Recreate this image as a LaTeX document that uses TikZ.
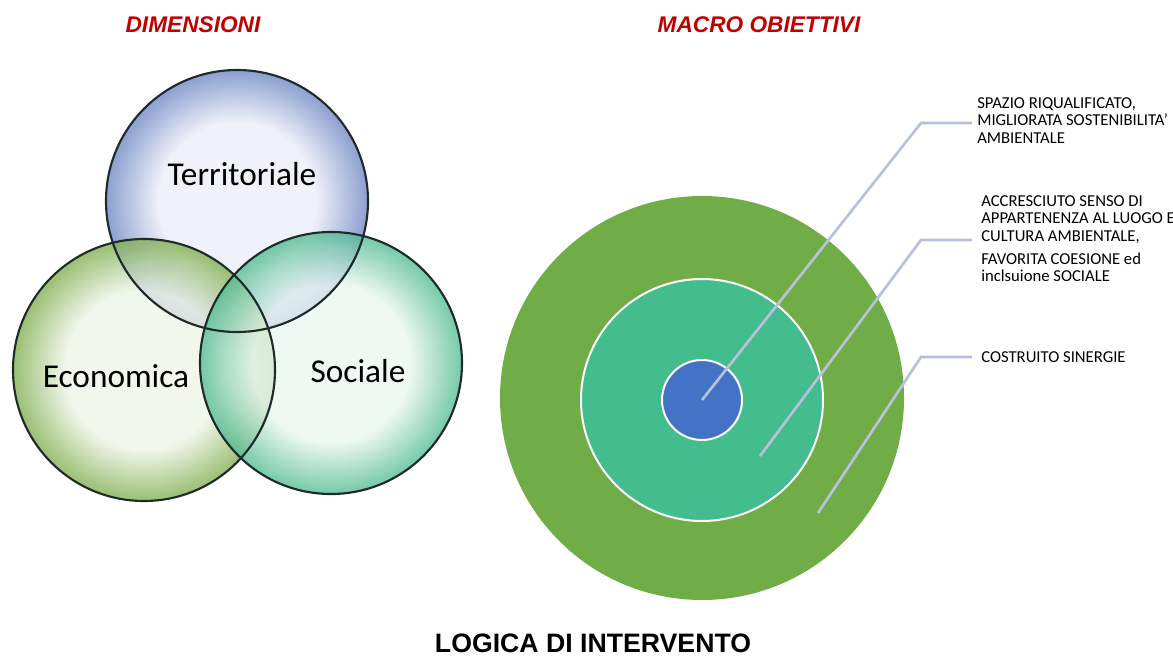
\documentclass[tikz,border=0pt]{standalone}
\usepackage{fontspec}
\setmainfont{Carlito}
\newfontfamily\headfont{Liberation Sans}
\usetikzlibrary{positioning}
\definecolor{titlered}{HTML}{C00000}
\definecolor{venndark}{HTML}{1F2B2B}
\definecolor{terrin}{HTML}{EBEEF8}
\definecolor{terrout}{HTML}{6B84C2}
\definecolor{econin}{HTML}{EEF5E7}
\definecolor{econout}{HTML}{7DAD4C}
\definecolor{socin}{HTML}{EAF7F1}
\definecolor{socout}{HTML}{50BA91}
\definecolor{ringgreen}{HTML}{70AD47}
\definecolor{ringteal}{HTML}{43BD8D}
\definecolor{ringblue}{HTML}{4472C4}
\definecolor{leadergray}{HTML}{B7C1DC}
\pgfdeclareradialshading{terrshade}{\pgfpoint{0bp}{0bp}}{color(0bp)=(terrin); color(15bp)=(terrin); color(25bp)=(terrout); color(50bp)=(terrout)}
\pgfdeclareradialshading{econshade}{\pgfpoint{0bp}{0bp}}{color(0bp)=(econin); color(15bp)=(econin); color(25bp)=(econout); color(50bp)=(econout)}
\pgfdeclareradialshading{socshade}{\pgfpoint{0bp}{0bp}}{color(0bp)=(socin); color(15bp)=(socin); color(25bp)=(socout); color(50bp)=(socout)}
\tikzstyle{bubble} = [circle, minimum size=196.5pt, inner sep=0pt, fill opacity=0.78]
\tikzstyle{bubbleedge} = [draw=venndark, line width=1.6pt]
\tikzstyle{bubbletext} = [font=\fontsize{25}{28}\selectfont, text=black]
\tikzstyle{title} = [font=\headfont\bfseries\itshape\fontsize{17}{20}\selectfont, text=titlered]
\tikzstyle{ring} = [circle, inner sep=0pt, draw=white, line width=1.5pt]
\tikzstyle{goal} = [anchor=north west, inner sep=0pt, align=left, text=black, font=\fontsize{12.5}{13.2}\selectfont]
\tikzstyle{leader} = [draw=leadergray, line width=2pt]

\begin{document}
\begin{tikzpicture}[x=0.75pt, y=-0.75pt]
  \useasboundingbox (0,0) rectangle (1173,657);

  % titoli
  \node (dimtitle) [title] at (193,25) {DIMENSIONI};
  \node (macrotitle) [title] at (759,25) {MACRO OBIETTIVI};
  \node (logica) [font=\headfont\bfseries\fontsize{20}{24}\selectfont] at (593,643) {LOGICA DI INTERVENTO};

  % dimensioni
  \node (terr) [bubble, shading=terrshade] at (237,201) {};
  \node (econ) [bubble, shading=econshade] at (144,370) {};
  \node (soc) [bubble, shading=socshade] at (331,363) {};
  \foreach \n in {terr,econ,soc}
    \draw [bubbleedge] (\n.center) circle (98.25pt);

  \node (terrlabel) [bubbletext] at (242,174) {Territoriale};
  \node (econlabel) [bubbletext] at (116,376) {Economica};
  \node (soclabel) [bubbletext] at (358,371) {Sociale};

  % macro obiettivi
  \node (outer) [circle, inner sep=0pt, fill=ringgreen, minimum size=303pt] at (702,398) {};
  \node (middle) [ring, fill=ringteal, minimum size=181.5pt] at (702,400) {};
  \node (core) [ring, fill=ringblue, minimum size=60pt] at (702,400) {};

  \coordinate (p2) at (760,456);
  \coordinate (p3) at (818,513);
  \coordinate (k1) at (921,123);
  \coordinate (k2) at (921,240);
  \coordinate (k3) at (921,357);
  \coordinate (e1) at (972,123);
  \coordinate (e2) at (972,240);
  \coordinate (e3) at (972,357);

  \draw [leader] (core.center) -- (k1) -- (e1);
  \draw [leader] (p2) -- (k2) -- (e2);
  \draw [leader] (p3) -- (k3) -- (e3);

  \node (goal1) [goal] at (977,97) {SPAZIO RIQUALIFICATO,\\MIGLIORATA SOSTENIBILITA'\\AMBIENTALE};
  \node (goal2) [goal] at (981,195) {ACCRESCIUTO SENSO DI\\APPARTENENZA AL LUOGO E\\CULTURA AMBIENTALE,\\[4pt]FAVORITA COESIONE ed\\inclsuione SOCIALE};
  \node (goal3) [goal] at (981,351) {COSTRUITO SINERGIE};

\end{tikzpicture}
\end{document}
